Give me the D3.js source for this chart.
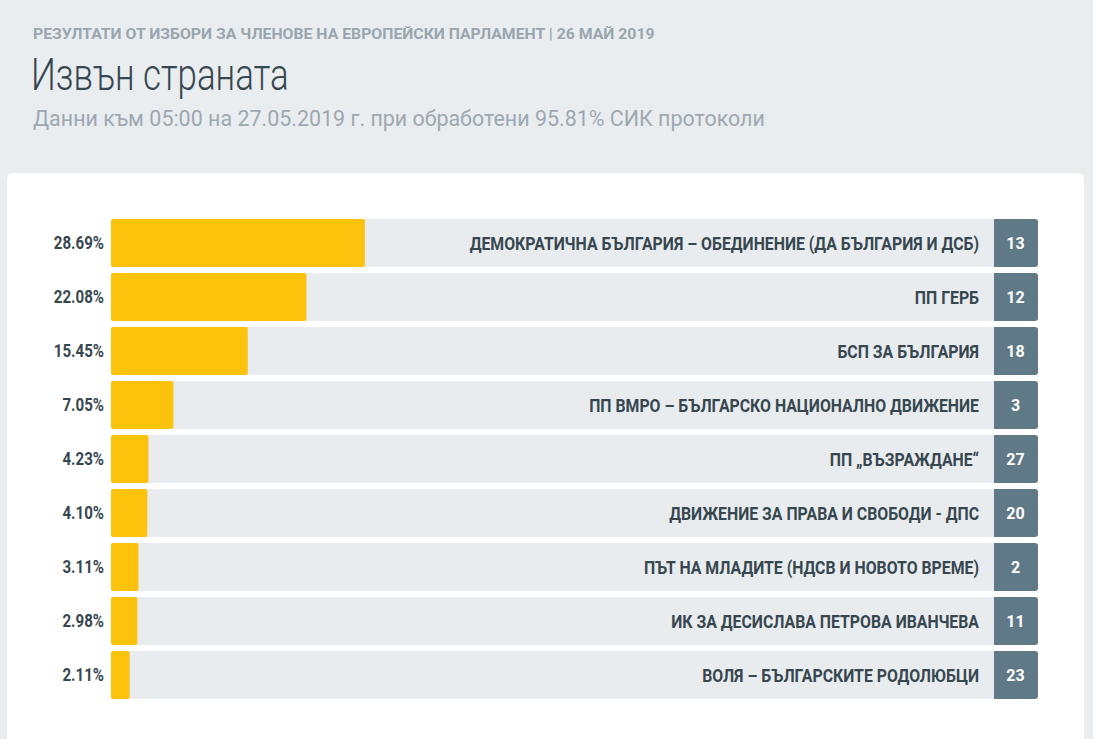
<!DOCTYPE html>
<html>
<head>
<meta charset="utf-8">
<script src="https://cdn.jsdelivr.net/npm/d3@7"></script>
<style>
  html, body { margin: 0; padding: 0; background: #e9edf0; overflow: hidden; }
  svg { display: block; }
</style>
</head>
<body>
<div id="chart"></div>
<script>
// Party names, result percentages and ballot numbers, top to bottom
const parties = [
    'ДЕМОКРАТИЧНА БЪЛГАРИЯ – ОБЕДИНЕНИЕ (ДА БЪЛГАРИЯ И ДСБ)',
    'ПП ГЕРБ',
    'БСП ЗА БЪЛГАРИЯ',
    'ПП ВМРО – БЪЛГАРСКО НАЦИОНАЛНО ДВИЖЕНИЕ',
    'ПП „ВЪЗРАЖДАНЕ“',
    'ДВИЖЕНИЕ ЗА ПРАВА И СВОБОДИ - ДПС',
    'ПЪТ НА МЛАДИТЕ (НДСВ И НОВОТО ВРЕМЕ)',
    'ИК ЗА ДЕСИСЛАВА ПЕТРОВА ИВАНЧЕВА',
    'ВОЛЯ – БЪЛГАРСКИТЕ РОДОЛЮБЦИ'
];
const percents = [28.69, 22.08, 15.45, 7.05, 4.23, 4.10, 3.11, 2.98, 2.11];
const ballotNumbers = [13, 12, 18, 3, 27, 20, 2, 11, 23];

const headerText = 'РЕЗУЛТАТИ ОТ ИЗБОРИ ЗА ЧЛЕНОВЕ НА ЕВРОПЕЙСКИ ПАРЛАМЕНТ | 26 МАЙ 2019';
const titleText = 'Извън страната';
const subtitleText = 'Данни към 05:00 на 27.05.2019 г. при обработени 95.81% СИК протоколи';

const width = 1093, height = 739;
const dark = '#37474f';

const svg = d3.select('#chart').append('svg')
    .attr('width', width)
    .attr('height', height);

// squeeze text horizontally to imitate the condensed face (no Roboto Condensed here)
function condense(sel, factor) {
    sel.each(function() {
        const t = d3.select(this);
        const x0 = +t.attr('x');
        t.attr('x', x0 / factor)
         .attr('transform', `scale(${factor},1)`);
    });
}

// Header texts
svg.append('text')
    .attr('x', 33).attr('y', 39)
    .style('font-family', 'Roboto, sans-serif')
    .style('font-weight', 700)
    .style('font-size', '14.5px')
    .attr('fill', '#9aa5ae')
    .text(headerText)
    .call(condense, 1.09);

svg.append('text')
    .attr('x', 31).attr('y', 90)
    .style('font-family', 'Roboto, sans-serif')
    .style('font-weight', 300)
    .style('font-size', '45px')
    .attr('fill', dark)
    .text(titleText)
    .call(condense, 0.775);

svg.append('text')
    .attr('x', 33).attr('y', 126)
    .style('font-family', 'Roboto, sans-serif')
    .style('font-weight', 400)
    .style('font-size', '22px')
    .attr('fill', '#9ea8b0')
    .text(subtitleText)
    .call(condense, 0.975);

// White card
svg.append('rect')
    .attr('x', 7).attr('y', 173)
    .attr('width', 1077).attr('height', 600)
    .attr('rx', 6)
    .attr('fill', '#ffffff');

// Scales
const x = d3.scaleLinear()
    .domain([0, 100])
    .range([111, 996]);

const y = d3.scaleBand()
    .domain(parties)
    .range([216, 702])
    .paddingInner(0.111)
    .paddingOuter(0.0555);

const boxLeft = 994, boxWidth = 44;

const rows = svg.selectAll('.row')
    .data(parties.map((p, i) => ({ party: p, pct: percents[i], num: ballotNumbers[i] })))
    .enter().append('g')
    .attr('class', 'row')
    .attr('transform', d => `translate(0,${y(d.party)})`);

// grey track
rows.append('rect')
    .attr('x', x(0))
    .attr('width', boxLeft - x(0) + 4)
    .attr('height', y.bandwidth())
    .attr('rx', 3)
    .attr('fill', '#e9ecef');

// yellow bar
rows.append('rect')
    .attr('x', x(0))
    .attr('width', d => x(d.pct) - x(0))
    .attr('height', y.bandwidth())
    .attr('rx', 2)
    .attr('fill', '#fdc20b');

// number box
rows.append('rect')
    .attr('x', boxLeft)
    .attr('width', boxWidth)
    .attr('height', y.bandwidth())
    .attr('rx', 3)
    .attr('fill', '#5f7987');
rows.append('rect')
    .attr('x', boxLeft)
    .attr('width', 6)
    .attr('height', y.bandwidth())
    .attr('fill', '#5f7987');

rows.append('text')
    .attr('x', boxLeft + boxWidth / 2 - 0.5)
    .attr('y', y.bandwidth() / 2)
    .attr('dy', '0.36em')
    .attr('text-anchor', 'middle')
    .style('font-family', 'Roboto, sans-serif')
    .style('font-weight', 700)
    .style('font-size', '16px')
    .attr('fill', '#ffffff')
    .text(d => d.num);

// party label
rows.append('text')
    .attr('x', 979)
    .attr('y', y.bandwidth() / 2)
    .attr('dy', '0.36em')
    .attr('text-anchor', 'end')
    .style('font-family', 'Roboto, sans-serif')
    .style('font-weight', 700)
    .style('font-size', '18.5px')
    .attr('fill', dark)
    .text(d => d.party)
    .call(condense, 0.856);

// percent label
rows.append('text')
    .attr('x', 104)
    .attr('y', y.bandwidth() / 2)
    .attr('dy', '0.36em')
    .attr('text-anchor', 'end')
    .style('font-family', 'Roboto, sans-serif')
    .style('font-weight', 700)
    .style('font-size', '18px')
    .attr('fill', dark)
    .text(d => d.pct.toFixed(2) + '%')
    .call(condense, 0.84);
</script>
</body>
</html>
